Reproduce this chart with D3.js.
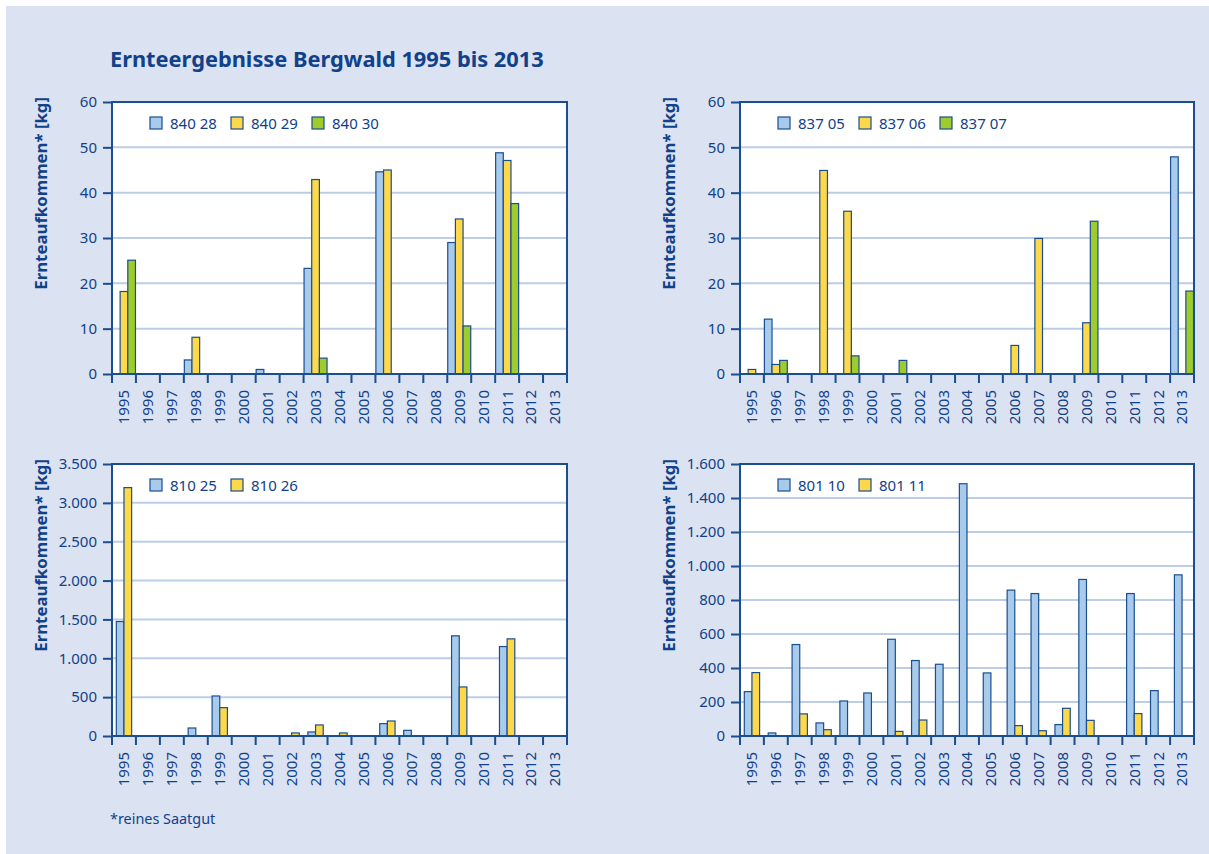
<!DOCTYPE html>
<html>
<head>
<meta charset="utf-8">
<script src="https://cdn.jsdelivr.net/npm/d3@7"></script>
<style>
  body { margin: 0; background: #fff; }
  svg { display: block; font-family: "Noto Sans", "Open Sans", sans-serif; }
</style>
</head>
<body>
<div id="chart"></div>
<script>
// years on the x axis
const years = d3.range(1995, 2014).map(String);

// panel 1 (top left)
const names1 = ['840 28', '840 29', '840 30'];
const values840_28 = [0, 0, 0, 3.1, 0, 0, 1.0, 0, 23.3, 0, 0, 44.6, 0, 0, 29.0, 0, 48.8, 0, 0];
const values840_29 = [18.2, 0, 0, 8.1, 0, 0, 0, 0, 42.9, 0, 0, 45.0, 0, 0, 34.2, 0, 47.1, 0, 0];
const values840_30 = [25.1, 0, 0, 0, 0, 0, 0, 0, 3.5, 0, 0, 0, 0, 0, 10.6, 0, 37.6, 0, 0];

// panel 2 (top right)
const names2 = ['837 05', '837 06', '837 07'];
const values837_05 = [0, 12.1, 0, 0, 0, 0, 0, 0, 0, 0, 0, 0, 0, 0, 0, 0, 0, 0, 47.9];
const values837_06 = [1.0, 2.1, 0, 44.9, 35.9, 0, 0, 0, 0, 0, 0, 6.3, 29.9, 0, 11.3, 0, 0, 0, 0];
const values837_07 = [0, 3.0, 0, 0, 4.0, 0, 3.0, 0, 0, 0, 0, 0, 0, 0, 33.7, 0, 0, 0, 18.3];

// panel 3 (bottom left)
const names3 = ['810 25', '810 26'];
const values810_25 = [1473, 0, 0, 103, 515, 0, 0, 0, 52, 0, 0, 159, 73, 0, 1289, 0, 1151, 0, 0];
const values810_26 = [3196, 0, 0, 0, 365, 0, 0, 39, 142, 39, 0, 193, 0, 0, 631, 0, 1250, 0, 0];

// panel 4 (bottom right)
const names4 = ['801 10', '801 11'];
const values801_10 = [261, 18, 538, 77, 206, 253, 569, 444, 422, 1484, 371, 858, 838, 67, 921, 0, 838, 267, 948];
const values801_11 = [373, 0, 130, 37, 0, 0, 27, 94, 0, 0, 0, 61, 31, 163, 92, 0, 132, 0, 0];

// y axis ranges
const yMax = [60, 60, 3500, 1600];
const yStep = [10, 10, 500, 200];

const seriesColors = ['#a9cbeb', '#fdd94a', '#9dcc2c'];
const textColor = '#10418a';
const lineColor = '#1a4e8f';

const panels = [
  {names: names1, values: [values840_28, values840_29, values840_30], max: yMax[0], step: yStep[0], left: 112, top: 102, width: 455},
  {names: names2, values: [values837_05, values837_06, values837_07], max: yMax[1], step: yStep[1], left: 740, top: 102, width: 454},
  {names: names3, values: [values810_25, values810_26], max: yMax[2], step: yStep[2], left: 112, top: 464, width: 455},
  {names: names4, values: [values801_10, values801_11], max: yMax[3], step: yStep[3], left: 740, top: 464, width: 454}
];
const plotHeight = 272;

const width = 1209;
const height = 854;

const de = d3.formatLocale({decimal: ',', thousands: '.', grouping: [3], currency: ['', ' €']});
const fmt = de.format(',d');

const svg = d3.select('#chart')
  .append('svg')
    .attr('width', width)
    .attr('height', height);

// background panel
svg.append('rect')
  .attr('x', 6)
  .attr('y', 6)
  .attr('width', width - 6)
  .attr('height', height - 6)
  .attr('fill', '#dbe2f1');

// title
svg.append('text')
  .attr('x', 110)
  .attr('y', 67)
  .style('font-size', '21.8px')
  .style('font-weight', 'bold')
  .attr('fill', textColor)
  .text('Ernteergebnisse Bergwald 1995 bis 2013');

// footnote
svg.append('text')
  .attr('x', 110)
  .attr('y', 824)
  .style('font-size', '14.4px')
  .attr('fill', textColor)
  .text('*reines Saatgut');

panels.forEach(p => {
  const g = svg.append('g')
    .attr('transform', 'translate(' + p.left + ',' + p.top + ')');

  const x = d3.scaleBand()
    .domain(years)
    .range([0, p.width]);

  const y = d3.scaleLinear()
    .domain([0, p.max])
    .range([plotHeight, 0]);

  const ticks = d3.range(0, p.max + p.step / 2, p.step);

  const barW = x.bandwidth() * 0.32;
  const groupW = barW * p.names.length;
  const inner = d3.scaleBand()
    .domain(d3.range(p.names.length))
    .range([(x.bandwidth() - groupW) / 2, (x.bandwidth() + groupW) / 2]);

  // plot background
  g.append('rect')
    .attr('width', p.width)
    .attr('height', plotHeight)
    .attr('fill', '#fff');

  // grid lines
  g.selectAll('.grid')
    .data(ticks.filter(t => t > 0 && t < p.max))
    .enter()
    .append('line')
      .attr('x1', 0)
      .attr('x2', p.width)
      .attr('y1', d => y(d))
      .attr('y2', d => y(d))
      .attr('stroke', '#bccde8')
      .attr('stroke-width', 2);

  // bars
  p.values.forEach((vals, si) => {
    g.selectAll('.bar' + si)
      .data(vals.map((v, i) => ({year: years[i], v: v})).filter(d => d.v > 0))
      .enter()
      .append('rect')
        .attr('x', d => x(d.year) + inner(si))
        .attr('y', d => y(d.v))
        .attr('width', inner.bandwidth())
        .attr('height', d => y(0) - y(d.v))
        .attr('fill', seriesColors[si])
        .attr('stroke', lineColor)
        .attr('stroke-width', 1.2);
  });

  // frame
  g.append('rect')
    .attr('width', p.width)
    .attr('height', plotHeight)
    .attr('fill', 'none')
    .attr('stroke', lineColor)
    .attr('stroke-width', 2);

  // y axis
  const yAxis = d3.axisLeft(y)
    .tickValues(ticks)
    .tickSize(9)
    .tickPadding(6)
    .tickFormat(fmt);
  const ya = g.append('g').call(yAxis);
  ya.select('.domain').remove();
  ya.selectAll('line').attr('stroke', lineColor).attr('stroke-width', 2);
  ya.selectAll('text')
    .attr('fill', textColor)
    .style('font-size', '15px')
    .style('font-family', '"Noto Sans", sans-serif');

  // x axis ticks at band boundaries
  g.selectAll('.xtick')
    .data(d3.range(years.length + 1))
    .enter()
    .append('line')
      .attr('x1', i => i * x.step())
      .attr('x2', i => i * x.step())
      .attr('y1', plotHeight)
      .attr('y2', plotHeight + 9)
      .attr('stroke', lineColor)
      .attr('stroke-width', 2);

  g.selectAll('.xlabel')
    .data(years)
    .enter()
    .append('text')
      .attr('transform', d => 'translate(' + (x(d) + x.bandwidth() / 2) + ',' + plotHeight + ') rotate(-90)')
      .attr('x', -16)
      .attr('dy', '0.36em')
      .attr('text-anchor', 'end')
      .style('font-size', '15px')
      .attr('fill', textColor)
      .text(d => d);

  // y label
  svg.append('text')
    .attr('transform', 'translate(' + (p.left - 71) + ',' + (p.top - 5) + ') rotate(-90)')
    .attr('dy', '0.36em')
    .attr('text-anchor', 'end')
    .style('font-size', '16.8px')
    .style('font-weight', 'bold')
    .attr('fill', textColor)
    .text('Ernteaufkommen* [kg]');

  // legend
  const leg = g.selectAll('.legend')
    .data(p.names)
    .enter()
    .append('g')
      .attr('transform', (d, i) => 'translate(' + (38 + i * 81) + ',15)');
  leg.append('rect')
    .attr('width', 12)
    .attr('height', 12)
    .attr('fill', (d, i) => seriesColors[i])
    .attr('stroke', lineColor)
    .attr('stroke-width', 1.2);
  leg.append('text')
    .attr('x', 20)
    .attr('y', 12)
    .style('font-size', '15px')
    .attr('fill', textColor)
    .text(d => d);
});
</script>
</body>
</html>
